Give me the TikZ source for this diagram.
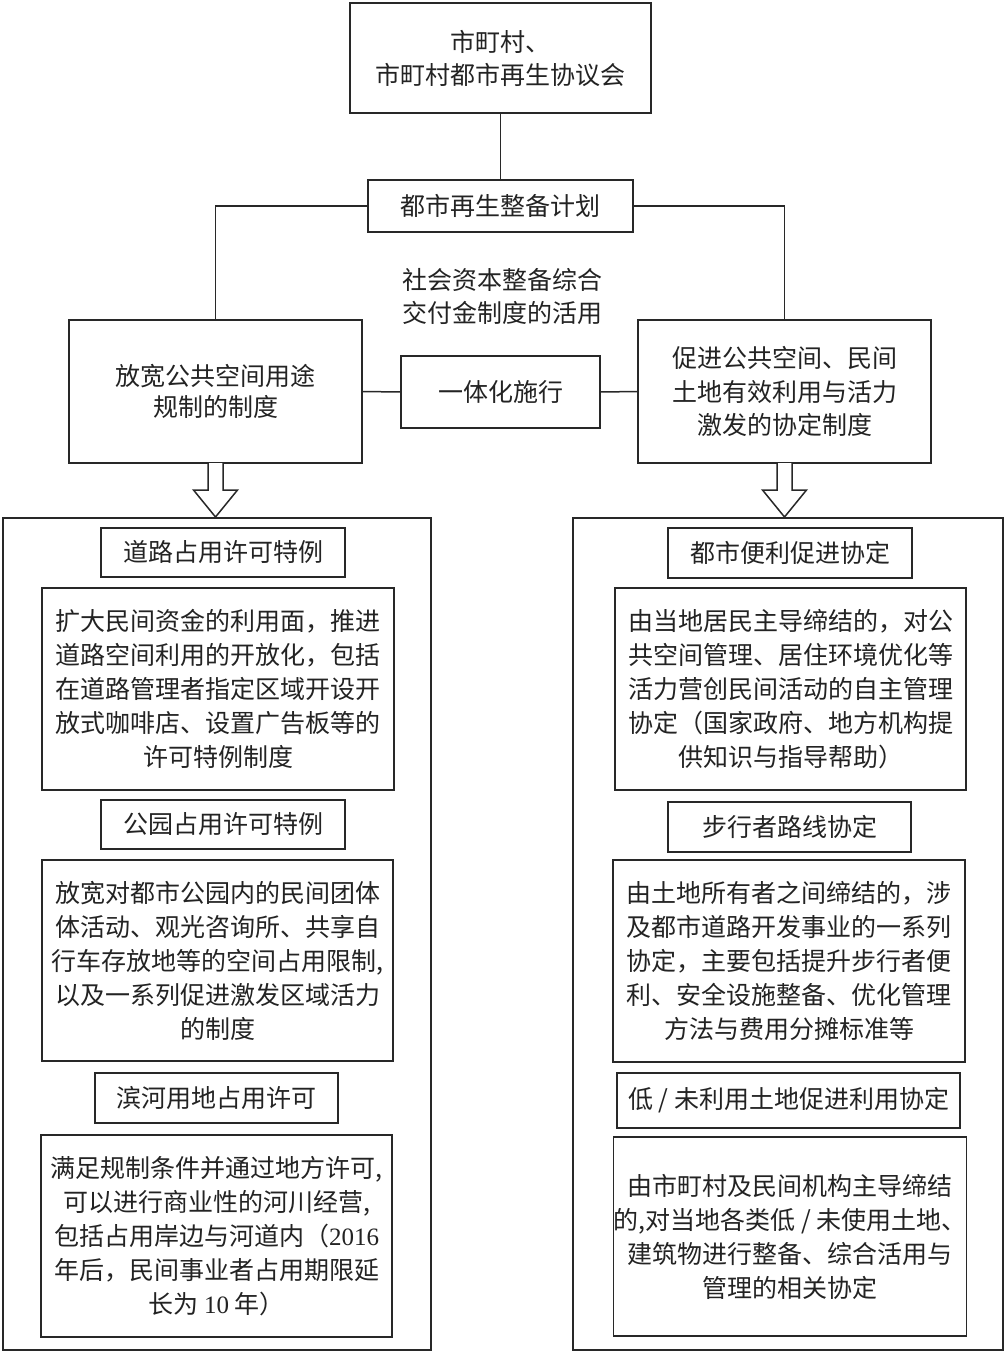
\documentclass[tikz,border=0pt]{standalone}
\usepackage{fontspec}
\newfontfamily\cjk{Noto Sans CJK SC}
\newfontfamily\lat{Liberation Serif}
\definecolor{lc}{RGB}{40,40,40}
\definecolor{tc}{RGB}{35,35,35}
\begin{document}
\begin{tikzpicture}[x=1pt,y=-1pt,
  box/.style={draw=lc, line width=1.5pt, inner sep=0pt, outer sep=0pt, align=center,
    font=\cjk\fontsize{25}{34}\selectfont, text=tc},
  lbl/.style={inner sep=0pt, align=center, font=\cjk\fontsize{25}{33}\selectfont, text=tc},
  conn/.style={draw=lc, line width=1.5pt},
  hollow/.style={draw=lc, line width=1.5pt, fill=white, line join=miter}]
\useasboundingbox (0,0) rectangle (1005,1354);
\fill[white] (0,0) rectangle (1005,1354);
% outer containers
\node[box, minimum width=428pt, minimum height=832pt] (lout) at (217,934) {};
\node[box, minimum width=430pt, minimum height=832pt] (rout) at (788,934) {};
% top part
\node[box, minimum width=301pt, minimum height=110pt, font=\cjk\fontsize{25}{33}\selectfont] (top) at (500.5,58) {市町村、\\市町村都市再生协议会};
\node[box, minimum width=265pt, minimum height=52pt] (plan) at (500.5,206) {都市再生整备计划};
\node[lbl] (fund) at (502,296.5) {社会资本整备综合\\交付金制度的活用};
\node[box, minimum width=293pt, minimum height=143pt, font=\cjk\fontsize{25}{31}\selectfont] (lbox) at (215.5,391.5) {放宽公共空间用途\\规制的制度};
\node[box, minimum width=199pt, minimum height=72pt] (mid) at (500.5,392) {一体化施行};
\node[box, minimum width=293pt, minimum height=143pt, font=\cjk\fontsize{25}{33.5}\selectfont] (rbox) at (784.5,391.5) {促进公共空间、民间\\土地有效利用与活力\\激发的协定制度};
\draw[conn] (top.south) -- (plan.north);
\draw[conn] (plan.west) -| (lbox.north);
\draw[conn] (plan.east) -| (rbox.north);
\draw[conn] (lbox.east) -- (mid.west);
\draw[conn] (mid.east) -- (rbox.west);
% hollow arrows
\draw[hollow] (lbox.south) ++(-7.5,0) -- ++(0,27) -- ++(-14.5,0) -- ++(22,27) -- ++(22,-27) -- ++(-14.5,0) -- ++(0,-27);
\draw[hollow] (rbox.south) ++(-7.5,0) -- ++(0,27) -- ++(-14.5,0) -- ++(22,27) -- ++(22,-27) -- ++(-14.5,0) -- ++(0,-27);
% left column
\node[box, minimum width=244pt, minimum height=49pt] (t1) at (223,552.5) {道路占用许可特例};
\node[box, minimum width=352pt, minimum height=202pt] (d1) at (218,689) {扩大民间资金的利用面，推进\\道路空间利用的开放化，包括\\在道路管理者指定区域开设开\\放式咖啡店、设置广告板等的\\许可特例制度};
\node[box, minimum width=244pt, minimum height=49pt] (t2) at (223,824.5) {公园占用许可特例};
\node[box, minimum width=351pt, minimum height=201pt] (d2) at (217.5,960.5) {放宽对都市公园内的民间团体\\体活动、观光咨询所、共享自\\行车存放地等的空间占用限制,\\以及一系列促进激发区域活力\\的制度};
\node[box, minimum width=243pt, minimum height=50pt] (t3) at (216.5,1098) {滨河用地占用许可};
\node[box, minimum width=351pt, minimum height=202pt] (d3) at (216.5,1236) {满足规制条件并通过地方许可,\\可以进行商业性的河川经营,\\包括占用岸边与河道内（{\lat 2016}\\年后，民间事业者占用期限延\\长为 {\lat 10} 年）};
% right column
\node[box, minimum width=244pt, minimum height=50pt] (t4) at (790,553) {都市便利促进协定};
\node[box, minimum width=351pt, minimum height=202pt] (d4) at (790.5,689) {由当地居民主导缔结的，对公\\共空间管理、居住环境优化等\\活力营创民间活动的自主管理\\协定（国家政府、地方机构提\\供知识与指导帮助）};
\node[box, minimum width=243pt, minimum height=50pt] (t5) at (789.5,827) {步行者路线协定};
\node[box, minimum width=352pt, minimum height=202pt] (d5) at (789,961) {由土地所有者之间缔结的，涉\\及都市道路开发事业的一系列\\协定，主要包括提升步行者便\\利、安全设施整备、优化管理\\方法与费用分摊标准等};
\node[box, minimum width=343pt, minimum height=55pt] (t6) at (788.5,1100.5) {低 / 未利用土地促进利用协定};
\node[box, minimum width=352pt, minimum height=199pt] (d6) at (790,1236.5) {由市町村及民间机构主导缔结\\的,对当地各类低 / 未使用土地、\\建筑物进行整备、综合活用与\\管理的相关协定};
\end{tikzpicture}
\end{document}
